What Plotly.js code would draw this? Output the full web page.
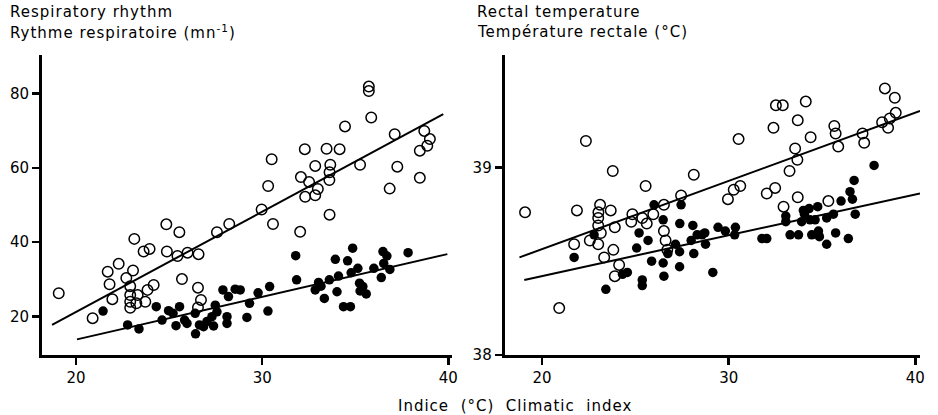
<!DOCTYPE html>
<html><head><meta charset="utf-8">
<script src="https://cdn.plot.ly/plotly-3.0.1.min.js"></script>
<style>html,body{margin:0;padding:0;background:#fff}
svg text.annotation-text{letter-spacing:1px}
</style>
</head><body><div id="chart" style="width:938px;height:415px"></div>
<script>
// Respiratory rhythm (mn-1) vs climatic index (°C)
const respOpenX = [23.13,23.63,23.95,24.85,25.55,24.88,25.45,25.99,26.58,27.57,28.23,
  19.07,20.89,21.70,21.80,21.95,22.29,22.70,23.06,22.91,22.91,22.91,22.91,23.31,23.24,23.72,23.84,24.17,25.69,26.55,26.71,26.55,
  29.97,30.32,30.51,30.58,32.04,32.08,32.29,32.31,32.52,32.85,32.85,32.99,33.46,33.66,33.62,33.61,33.62,34.16,34.45,35.26,35.73,35.73,35.86,36.85,37.12,37.26,38.47,38.47,38.71,38.87,39.01];
const respOpenY = [40.9,37.5,38.2,44.8,42.7,37.5,36.3,37.2,36.8,42.7,44.9,
  26.3,19.6,32.1,28.7,24.7,34.2,30.4,32.4,28.2,25.8,24.0,22.4,25.8,23.6,24.0,27.2,28.5,30.1,27.8,24.5,22.5,
  48.8,55.1,62.3,44.9,42.8,57.5,65.0,52.2,56.2,60.5,52.6,54.3,65.1,60.8,58.8,56.7,47.4,65.0,71.1,60.8,81.8,80.6,73.5,54.4,69.0,60.3,57.3,64.6,69.9,65.9,67.7];
const respClosedX = [21.45,22.77,23.38,24.31,24.62,24.97,25.21,25.56,25.37,25.83,25.96,26.40,26.42,26.63,26.85,27.03,27.30,27.39,27.48,27.57,27.89,28.11,28.11,28.19,28.55,28.82,29.18,
  29.32,29.78,30.31,30.40,31.80,31.85,32.85,33.03,33.34,33.16,33.61,33.93,34.02,34.10,34.37,34.59,34.74,34.78,34.86,35.14,35.23,35.26,35.41,35.59,36.00,36.40,36.49,36.53,36.70,36.86,37.84];
const respClosedY = [21.5,17.8,16.7,22.7,19.1,21.6,20.9,22.7,17.6,19.1,18.2,20.9,15.4,17.8,17.3,18.7,20.0,17.5,23.1,21.3,27.2,20.0,18.2,25.4,27.4,27.2,19.8,
  23.6,26.4,21.5,28.1,36.4,29.9,27.2,29.2,24.9,28.2,29.9,35.4,26.7,30.9,22.7,35.0,22.7,31.8,38.4,33.0,29.0,26.9,28.1,26.1,33.0,30.5,37.5,34.3,36.3,32.7,37.2];
const respOpenFitX = [18.71, 39.73];
const respOpenFitY = [17.8, 74.4];
const respClosedFitX = [20.05, 39.95];
const respClosedFitY = [13.9, 36.8];

// Rectal temperature (°C) vs climatic index (°C)
const tempOpenX = [19.09,22.35,21.87,23.11,23.02,23.01,23.01,23.15,23.68,23.79,23.90,21.72,22.56,23.01,23.82,23.33,24.84,24.78,25.37,25.61,25.96,25.55,26.53,27.45,28.13,26.53,26.62,26.71,
  20.92,24.13,23.90,
  29.96,30.27,30.62,30.53,32.04,32.49,32.40,32.53,32.90,33.26,33.56,33.68,33.70,34.13,34.39,32.94,33.70,35.34,35.66,35.73,35.87,37.17,37.26,38.22,38.37,38.54,38.63,38.90,38.95];
const tempOpenY = [38.76,39.14,38.77,38.80,38.76,38.73,38.69,38.65,38.77,38.98,38.68,38.59,38.61,38.59,38.56,38.52,38.75,38.71,38.73,38.70,38.75,38.90,38.80,38.85,38.96,38.66,38.61,38.56,
  38.25,38.48,38.42,
  38.83,38.88,38.90,39.15,38.86,38.89,39.21,39.33,39.33,38.98,39.10,39.04,39.25,39.35,39.16,38.79,38.84,38.82,39.22,39.18,39.11,39.18,39.13,39.24,39.42,39.21,39.26,39.37,39.29];
const tempClosedX = [22.79,26.00,27.45,26.49,27.38,28.08,25.20,25.68,25.07,27.15,27.37,27.99,28.31,26.74,21.72,
  23.42,24.31,24.57,25.37,25.37,25.87,26.49,26.53,27.37,28.13,
  28.72,28.57,28.76,29.43,29.82,30.36,30.32,31.78,32.04,33.06,33.06,33.29,33.74,33.91,34.06,34.00,34.31,34.36,34.45,34.77,34.63,34.81,34.86,35.25,35.25,35.61,35.73,36.02,36.41,36.50,36.63,36.72,36.78,37.79,29.15];
const tempClosedY = [38.64,38.80,38.80,38.72,38.70,38.69,38.65,38.61,38.57,38.59,38.55,38.61,38.64,38.54,38.52,
  38.35,38.43,38.44,38.40,38.37,38.50,38.49,38.42,38.47,38.54,
  38.65,38.64,38.59,38.68,38.66,38.68,38.64,38.62,38.62,38.74,38.71,38.64,38.64,38.71,38.75,38.77,38.78,38.72,38.64,38.79,38.72,38.66,38.63,38.73,38.59,38.75,38.65,38.82,38.62,38.87,38.83,38.93,38.75,39.01,38.44];
const tempOpenFitX = [18.79, 40.25];
const tempOpenFitY = [38.52, 39.30];
const tempClosedFitX = [19.05, 40.25];
const tempClosedFitY = [38.40, 38.86];

const xTicks = [20, 30, 40];
const respTicks = [20, 40, 60, 80];
const tempTicks = [38, 39];

const FONT = 'DejaVu Sans, Liberation Sans, sans-serif';
const openM = {symbol:'circle-open', size:10.5, color:'#000', line:{width:1.5, color:'#000'}};
const closedM = {symbol:'circle', size:9.5, color:'#000'};
const fitL = {color:'#000', width:2};

const traces = [
  {x:respOpenFitX, y:respOpenFitY, mode:'lines', line:fitL, xaxis:'x', yaxis:'y', hoverinfo:'skip'},
  {x:respClosedFitX, y:respClosedFitY, mode:'lines', line:fitL, xaxis:'x', yaxis:'y', hoverinfo:'skip'},
  {x:respOpenX, y:respOpenY, mode:'markers', marker:openM, xaxis:'x', yaxis:'y'},
  {x:respClosedX, y:respClosedY, mode:'markers', marker:closedM, xaxis:'x', yaxis:'y'},
  {x:tempOpenFitX, y:tempOpenFitY, mode:'lines', line:fitL, xaxis:'x2', yaxis:'y2', hoverinfo:'skip'},
  {x:tempClosedFitX, y:tempClosedFitY, mode:'lines', line:fitL, xaxis:'x2', yaxis:'y2', hoverinfo:'skip'},
  {x:tempOpenX, y:tempOpenY, mode:'markers', marker:openM, xaxis:'x2', yaxis:'y2'},
  {x:tempClosedX, y:tempClosedY, mode:'markers', marker:closedM, xaxis:'x2', yaxis:'y2'}
];

const axBase = {showgrid:false, zeroline:false, showline:true, linecolor:'#000', linewidth:3,
  ticks:'outside', ticklen:7, tickwidth:2.5, tickcolor:'#000',
  tickfont:{family:FONT, size:15, color:'#000'}, fixedrange:true};

const layout = {
  width:938, height:415,
  margin:{l:42, r:18, t:55, b:60},
  paper_bgcolor:'#fff', plot_bgcolor:'#fff',
  showlegend:false,
  xaxis: Object.assign({}, axBase, {domain:[0,0.467], range:[18.17,40.2], tickvals:xTicks, anchor:'y'}),
  yaxis: Object.assign({}, axBase, {range:[9.71,90.29], tickvals:respTicks, anchor:'x'}),
  xaxis2: Object.assign({}, axBase, {domain:[0.527,1], range:[18.0,40.25], tickvals:xTicks, anchor:'y2'}),
  yaxis2: Object.assign({}, axBase, {range:[38.0,39.598], tickvals:tempTicks, anchor:'x2'}),
  annotations:[
    {text:'Respiratory rhythm', xref:'paper', yref:'paper', x:-0.039, y:1.143, xanchor:'left', yanchor:'middle', showarrow:false, font:{family:FONT, size:15, color:'#000'}},
    {text:'Rythme respiratoire (mn<sup>-1</sup>)', xref:'paper', yref:'paper', x:-0.039, y:1.077, xanchor:'left', yanchor:'middle', showarrow:false, font:{family:FONT, size:15, color:'#000'}},
    {text:'Rectal temperature', xref:'paper', yref:'paper', x:0.493, y:1.143, xanchor:'left', yanchor:'middle', showarrow:false, font:{family:FONT, size:15, color:'#000'}},
    {text:'Température rectale (°C)', xref:'paper', yref:'paper', x:0.493, y:1.077, xanchor:'left', yanchor:'middle', showarrow:false, font:{family:FONT, size:15, color:'#000'}},
    {text:'Indice  (°C)  Climatic  index', xref:'paper', yref:'paper', x:0.539, y:-0.17, xanchor:'center', yanchor:'middle', showarrow:false, font:{family:FONT, size:15, color:'#000'}}
  ]
};

Plotly.newPlot('chart', traces, layout, {staticPlot:true, displayModeBar:false});
</script>
</body></html>
